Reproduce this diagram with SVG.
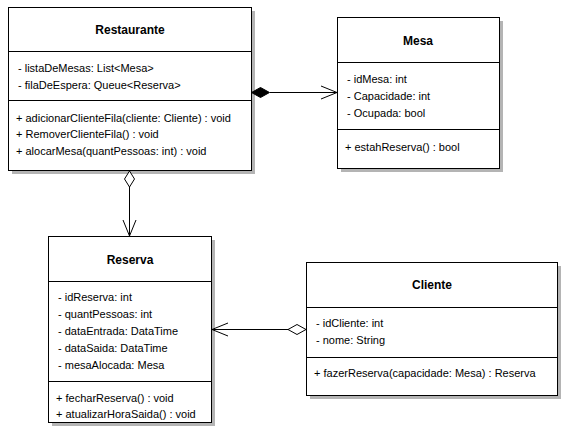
<svg xmlns="http://www.w3.org/2000/svg" width="569" height="438" viewBox="0 0 569 438">
<style>
.box{fill:#fff;stroke:#000;stroke-width:1}
.sh{fill:#b4b4b4}
.ln{stroke:#000;stroke-width:1;fill:none}
.t{font-family:"Liberation Sans",Arial,sans-serif;font-size:11px;fill:#000}
.h{font-family:"Liberation Sans",Arial,sans-serif;font-size:12px;font-weight:bold;fill:#000;text-anchor:middle}
</style>
<rect width="569" height="438" fill="#fff"/>
<g id="Restaurante">
<rect class="sh" x="12" y="11" width="243" height="163"/>
<rect class="box" x="8.5" y="7.5" width="243" height="163"/>
<path class="ln" d="M8.5,51.5 H251.5 M8.5,100.5 H251.5"/>
<text class="h" x="130" y="34">Restaurante</text>
<text class="t" x="18" y="72">- listaDeMesas: List&lt;Mesa&gt;</text>
<text class="t" x="18" y="89">- filaDeEspera: Queue&lt;Reserva&gt;</text>
<text class="t" x="16" y="122">+ adicionarClienteFila(cliente: Cliente) : void</text>
<text class="t" x="16" y="138">+ RemoverClienteFila() : void</text>
<text class="t" x="16" y="155">+ alocarMesa(quantPessoas: int) : void</text>
</g>
<g id="Mesa">
<rect class="sh" x="341" y="21" width="162" height="151"/>
<rect class="box" x="337.5" y="17.5" width="162" height="151"/>
<path class="ln" d="M337.5,62.5 H499.5 M337.5,129.5 H499.5"/>
<text class="h" x="418" y="45">Mesa</text>
<text class="t" x="347" y="83">- idMesa: int</text>
<text class="t" x="347" y="100">- Capacidade: int</text>
<text class="t" x="347" y="117">- Ocupada: bool</text>
<text class="t" x="345" y="151">+ estahReserva() : bool</text>
</g>
<g id="Reserva">
<rect class="sh" x="52" y="240" width="163" height="186"/>
<rect class="box" x="48.5" y="236.5" width="163" height="186"/>
<path class="ln" d="M48.5,281.5 H211.5 M48.5,381.5 H211.5"/>
<text class="h" x="130" y="264">Reserva</text>
<text class="t" x="58" y="301">- idReserva: int</text>
<text class="t" x="58" y="318">- quantPessoas: int</text>
<text class="t" x="58" y="335">- dataEntrada: DataTime</text>
<text class="t" x="58" y="352">- dataSaida: DataTime</text>
<text class="t" x="58" y="369">- mesaAlocada: Mesa</text>
<text class="t" x="56" y="402">+ fecharReserva() : void</text>
<text class="t" x="56" y="418">+ atualizarHoraSaida() : void</text>
</g>
<g id="Cliente">
<rect class="sh" x="310" y="266" width="251" height="133"/>
<rect class="box" x="306.5" y="262.5" width="251" height="133"/>
<path class="ln" d="M306.5,307.5 H557.5 M306.5,357.5 H557.5"/>
<text class="h" x="432" y="289">Cliente</text>
<text class="t" x="316" y="327">- idCliente: int</text>
<text class="t" x="316" y="344">- nome: String</text>
<text class="t" x="314" y="377">+ fazerReserva(capacidade: Mesa) : Reserva</text>
</g>
<g id="connectors">
<path class="ln" d="M270,92.5 H337 M321,86 L337,92.5 L321,99"/>
<path d="M251.5,92.5 L260.5,87.5 L269.5,92.5 L260.5,97.5 Z" fill="#000" stroke="#000"/>
<path class="ln" d="M129.5,187 V236 M123,220 L129.5,236 L136,220"/>
<path d="M129.5,171 L124.5,179 L129.5,187 L134.5,179 Z" fill="#fff" stroke="#000"/>
<path class="ln" d="M288,329.5 H212 M228,323 L212,329.5 L228,336"/>
<path d="M306,329.5 L297,324.5 L288,329.5 L297,334.5 Z" fill="#fff" stroke="#000"/>
</g>
</svg>
